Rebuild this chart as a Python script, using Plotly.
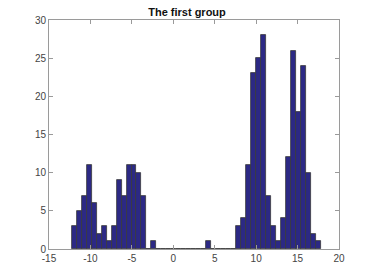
import numpy as np
import plotly.graph_objects as go

# histogram: 50 equal bins between data min and max
bin_min = -12.26
bin_max = 17.81
n_bins = 50
counts = [3, 5, 7, 11, 6, 2, 3, 1, 3, 9, 7, 11, 11, 10, 7, 0, 1,
          0, 0, 0, 0, 0, 0, 0, 0, 0, 0, 1, 0, 0, 0, 0, 0,
          3, 4, 11, 23, 25, 28, 7, 3, 1, 4, 12, 26, 18, 24, 10, 2, 1]
x_ticks = [-15, -10, -5, 0, 5, 10, 15, 20]
x_tick_labels = ["-15", "-10", "-5", "0", "5", "10", "15", "20"]
y_ticks = [0, 5, 10, 15, 20, 25, 30]
title = "The first group"

edges = np.linspace(bin_min, bin_max, n_bins + 1)
centers = (edges[:-1] + edges[1:]) / 2
width = edges[1] - edges[0]

fig = go.Figure(go.Bar(
    x=centers, y=counts, width=width,
    marker=dict(color="#2c2985", line=dict(color="#3a3a3a", width=0.8)),
))

axis_common = dict(
    showline=True, mirror="ticks", linecolor="#9a9a9a", linewidth=1,
    ticks="inside", ticklen=4, tickcolor="#9a9a9a",
    showgrid=False, zeroline=False,
    tickfont=dict(family="Liberation Sans, Arial, sans-serif", size=10, color="#444444"),
)
fig.update_xaxes(range=[-15, 20], tickvals=x_ticks, ticktext=x_tick_labels, **axis_common)
fig.update_yaxes(range=[0, 30], tickvals=y_ticks, **axis_common)

fig.update_layout(
    width=374, height=280,
    margin=dict(l=49, r=35, t=20, b=31),
    paper_bgcolor="white", plot_bgcolor="white",
    bargap=0, showlegend=False,
    title=dict(text="<b>" + title + "</b>", x=0.5, xanchor="center",
               y=1 - 12 / 280, yanchor="middle",
               font=dict(family="Liberation Sans, Arial, sans-serif", size=11, color="#111111")),
)

fig.write_html("out.html", post_script="document.body.style.margin='0';",
               config={"displayModeBar": False})
